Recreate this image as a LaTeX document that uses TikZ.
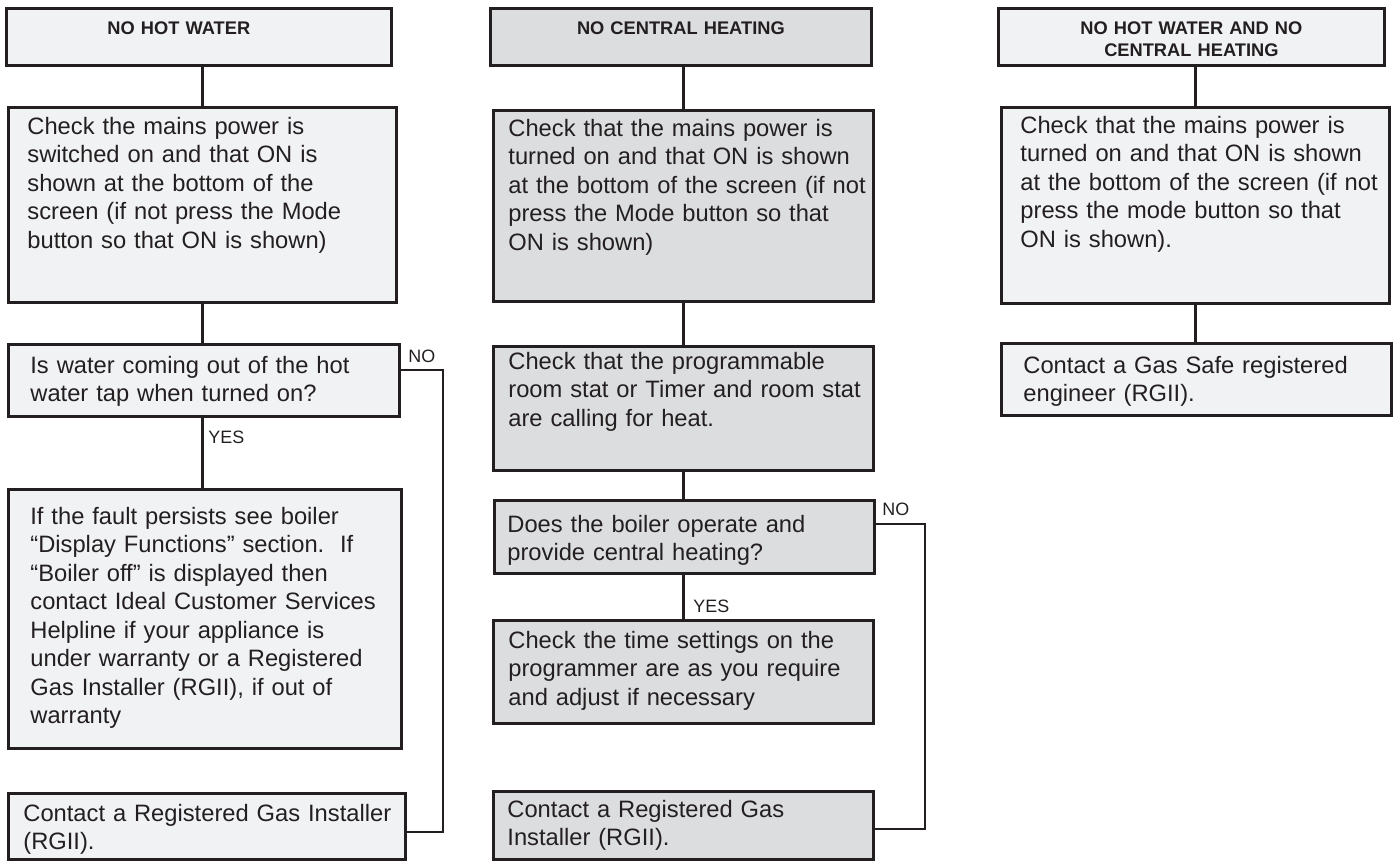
\documentclass[tikz,border=0pt]{standalone}
\usepackage{fontspec}
\setmainfont{Liberation Sans}
\definecolor{ink}{HTML}{231F20}
\definecolor{paleA}{HTML}{F1F2F4}
\definecolor{paleB}{HTML}{DCDDDF}
\tikzset{
  box/.style={draw=ink, line width=1.6pt, text=ink, anchor=north west,
    inner xsep=0pt, inner ysep=0pt, align=left,
    font=\fontsize{13.5}{16.2}\selectfont},
  pad/.style={execute at begin node={\leftskip=#1}},
  head/.style={draw=ink, line width=1.6pt, text=ink, anchor=north west,
    inner xsep=0pt, inner ysep=0pt, align=center, text height=0.52cm, text depth=0.62cm,
    font=\bfseries\fontsize{10.4}{12.5}\selectfont},
  link/.style={draw=ink, line width=1.4pt},
  tag/.style={text=ink, anchor=base west, inner sep=0pt, font=\fontsize{10.2}{12}\selectfont},
}
\begin{document}
\begin{tikzpicture}[x=0.02cm, y=-0.02cm]
\useasboundingbox (0,0) rectangle (1395,864);
\begin{scope}
    \node[head, fill=paleA, text width=7.70cm] (h1) at (5,7) {NO HOT WATER\hspace{0.8cm}\mbox{}};
    \node[box, fill=paleA, pad=0.38cm, text width=7.76cm, text height=0.54cm, text depth=3.36cm] (c1) at (7,106)
        {Check the mains power is\\switched on and that ON is\\shown at the bottom of the\\screen (if not press the Mode\\button so that ON is shown)};
    \node[box, fill=paleA, pad=0.44cm, text width=7.82cm, text height=0.58cm, text depth=0.86cm] (q1) at (7,343)
        {Is water coming out of the hot\\water tap when turned on?};
    \node[box, fill=paleA, pad=0.44cm, text width=7.86cm, text height=0.70cm, text depth=4.48cm] (f1) at (7,488)
        {If the fault persists see boiler\\“Display Functions” section.\ \ If\\“Boiler off” is displayed then\\contact Ideal Customer Services\\Helpline if your appliance is\\under warranty or a Registered\\Gas Installer (RGII), if out of\\warranty};
    \node[box, fill=paleA, pad=0.30cm, text width=7.94cm, text height=0.56cm, text depth=0.76cm] (r1) at (7,792)
        {Contact a Registered Gas Installer\\(RGII).};
    \node[tag] (no1) at (408,363) {NO};
    \node[tag] (yes1) at (208,443) {YES};
    \coordinate (n1) at (443,370);
    \coordinate (m1) at (443,832);
    \draw[link] (h1.south -| c1.north) -- (c1.north);
    \draw[link] (c1.south) -- (c1.south |- q1.north);
    \draw[link] (c1.south |- q1.south) -- (c1.south |- f1.north);
    \draw[link] (q1.east |- n1) -- (n1) -- (m1) -- (r1.east |- m1);
\end{scope}
\begin{scope}
    \node[head, fill=paleB, text width=7.62cm] (h2) at (489,7) {NO CENTRAL HEATING};
    \node[box, fill=paleB, pad=0.30cm, text width=7.60cm, text height=0.52cm, text depth=3.30cm] (c2) at (492,109)
        {Check that the mains power is\\turned on and that ON is shown\\at the bottom of the screen (if not\\press the Mode button so that\\ON is shown)};
    \node[box, fill=paleB, pad=0.30cm, text width=7.60cm, text height=0.46cm, text depth=2.02cm] (p2) at (492,345)
        {Check that the programmable\\room stat or Timer and room stat\\are calling for heat.};
    \node[box, fill=paleB, pad=0.26cm, text width=7.60cm, text height=0.64cm, text depth=0.82cm] (q2) at (493,499)
        {Does the boiler operate and\\provide central heating?};
    \node[box, fill=paleB, pad=0.30cm, text width=7.60cm, text height=0.56cm, text depth=1.50cm] (t2) at (492,619)
        {Check the time settings on the\\programmer are as you require\\and adjust if necessary};
    \node[box, fill=paleB, pad=0.28cm, text width=7.60cm, text height=0.52cm, text depth=0.84cm] (r2) at (492,790)
        {Contact a Registered Gas\\Installer (RGII).};
    \node[tag] (no2) at (882,515) {NO};
    \node[tag] (yes2) at (693,612) {YES};
    \coordinate (n2) at (925,524);
    \coordinate (m2) at (925,829);
    \draw[link] (h2.south -| c2.north) -- (c2.north);
    \draw[link] (c2.south) -- (c2.south |- p2.north);
    \draw[link] (p2.south) -- (p2.south |- q2.north);
    \draw[link] (p2.south |- q2.south) -- (p2.south |- t2.north);
    \draw[link] (q2.east |- n2) -- (n2) -- (m2) -- (r2.east |- m2);
\end{scope}
\begin{scope}
    \node[head, fill=paleA, text width=7.72cm] (h3) at (997,7) {NO HOT WATER AND NO\\CENTRAL HEATING};
    \node[box, fill=paleA, pad=0.38cm, text width=7.76cm, text height=0.52cm, text depth=3.40cm] (c3) at (1000,106)
        {Check that the mains power is\\turned on and that ON is shown\\at the bottom of the screen (if not\\press the mode button so that\\ON is shown).};
    \node[box, fill=paleA, pad=0.44cm, text width=7.80cm, text height=0.60cm, text depth=0.84cm] (g3) at (1000,342)
        {Contact a Gas Safe registered\\engineer (RGII).};
    \draw[link] (h3.south -| c3.north) -- (c3.north);
    \draw[link] (c3.south) -- (c3.south |- g3.north);
\end{scope}
\end{tikzpicture}
\end{document}
